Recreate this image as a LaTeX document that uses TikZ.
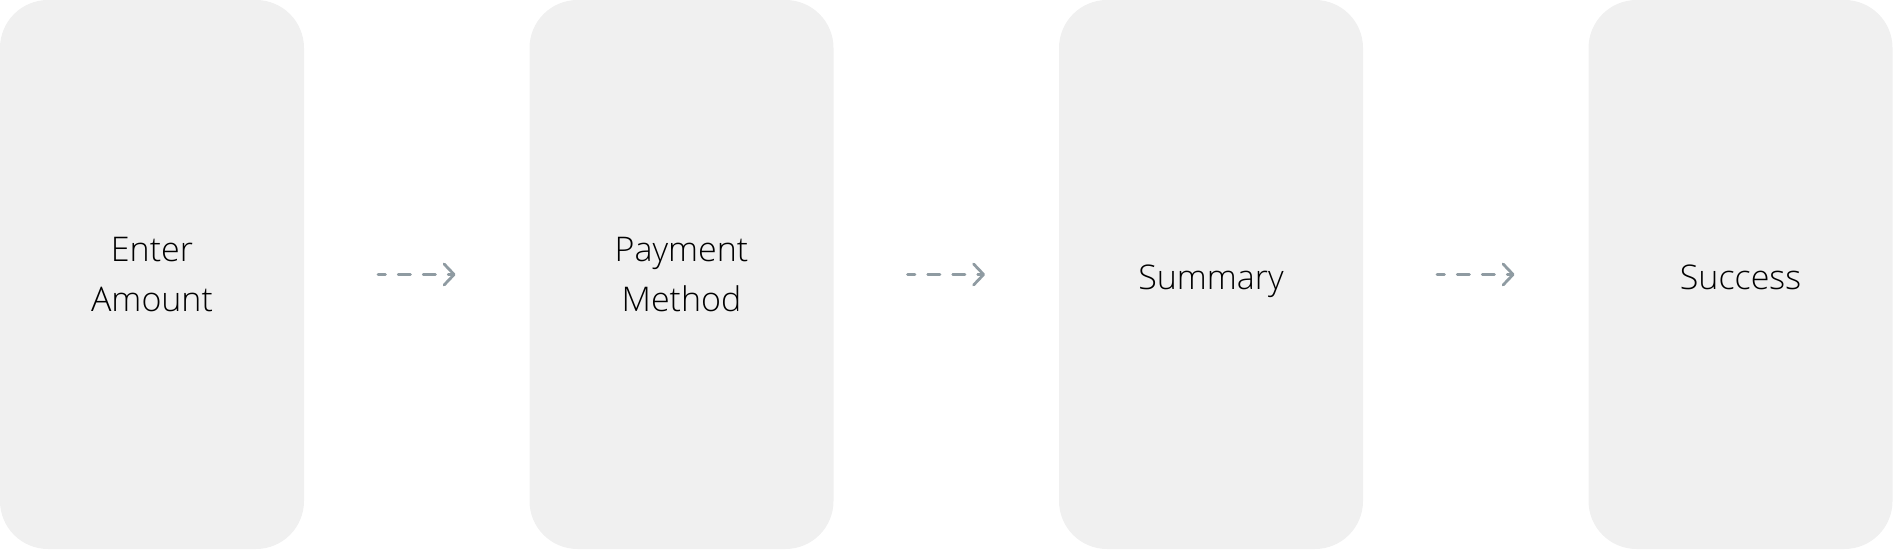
\documentclass[tikz,border=0pt]{standalone}
\usepackage{fontspec}
\setmainfont{Open Sans Light}
\usetikzlibrary{arrows.meta, positioning}
\definecolor{panelGray}{HTML}{F0F0F0}
\definecolor{arrowGray}{HTML}{8F9BA2}
\tikzset{
    % Screen panels
    screenBox/.style={
        rectangle, rounded corners=24pt, draw=none, fill=panelGray,
        minimum width=152pt, minimum height=274.5pt, inner sep=0pt, outer sep=0pt,
        align=center, font=\fontsize{17pt}{25pt}\selectfont
    },
    oneLine/.style={text height=19pt, text depth=4pt},
    % Step connectors
    arrowNext/.style={-{Straight Barb[length=5pt, width=10.5pt, round]}, line width=1.4pt, line cap=round,
        draw=arrowGray, dash pattern=on 6.1pt off 6.4pt, dash phase=2.4pt,
        shorten <=37pt, shorten >=37pt}
}
\begin{document}
\begin{tikzpicture}
        \useasboundingbox (0,0) rectangle (946.5pt,275.5pt);
        
        % Screens
        \node[screenBox, anchor=north west] (amount) at (0,275.5pt) {Enter\\Amount};
        \node[screenBox, right=112.75pt of amount] (method) {Payment\\Method};
        \node[screenBox, oneLine, right=112.75pt of method] (summary) {Summary};
        \node[screenBox, oneLine, right=112.75pt of summary] (success) {Success};
        
        % Flow
        \draw[arrowNext] (amount) -- (method);
        \draw[arrowNext] (method) -- (summary);
        \draw[arrowNext] (summary) -- (success);
    \end{tikzpicture}
\end{document}
